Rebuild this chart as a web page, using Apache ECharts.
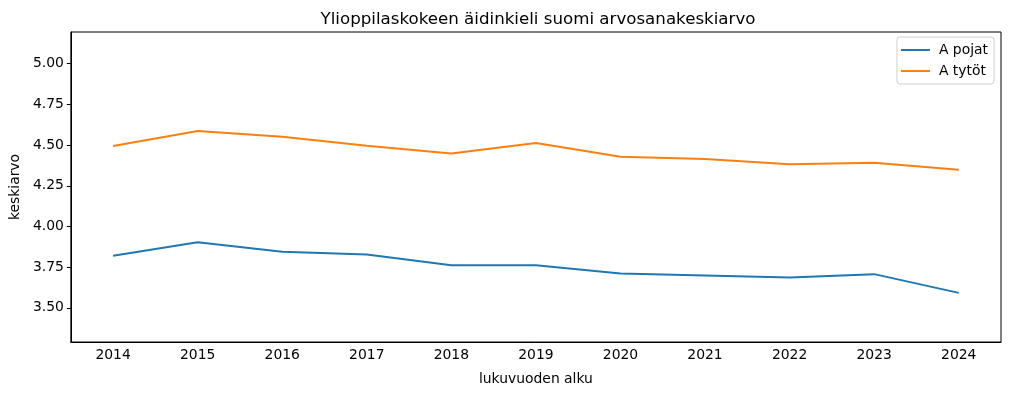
<!DOCTYPE html>
<html><head><meta charset="utf-8">
<script src="https://cdn.jsdelivr.net/npm/echarts@6/dist/echarts.min.js"></script>
<style>html,body{margin:0;padding:0;background:#fff}#c{width:1009px;height:393px}</style>
</head><body><div id="c"></div>
<script>
const years = ['2014','2015','2016','2017','2018','2019','2020','2021','2022','2023','2024'];
const pojat = [3.820,3.903,3.845,3.827,3.761,3.761,3.711,3.699,3.687,3.707,3.592];
const tytot = [4.494,4.587,4.552,4.496,4.449,4.513,4.429,4.414,4.382,4.392,4.349];
const yTicks = [3.5,3.75,4.0,4.25,4.5,4.75,5.0];
const F = 'DejaVu Sans';
const FS = 13.9;
const chart = echarts.init(document.getElementById('c'), null, {renderer:'canvas'});
chart.setOption({
  animation:false,
  textStyle:{fontFamily:F},
  title:{text:'Ylioppilaskokeen äidinkieli suomi arvosanakeskiarvo',left:533,top:6,textAlign:'center',
    textStyle:{fontFamily:F,fontSize:16.67,fontWeight:'normal',color:'#000'}},
  grid:{left:70,right:8,top:32,bottom:51,show:true,borderColor:'#000',borderWidth:1,backgroundColor:'transparent'},
  legend:{right:15,top:37,orient:'vertical',itemWidth:29,itemHeight:2,itemGap:7,
    backgroundColor:'#fff',borderColor:'#d0d0d0',borderWidth:1,borderRadius:3,padding:[6,6,6,4],
    textStyle:{fontFamily:F,fontSize:FS,color:'#000',padding:[0,0,0,4]},icon:'rect',
    data:['A pojat','A tytöt']},
  xAxis:{type:'category',data:years,boundaryGap:true,
    name:'lukuvuoden alku',nameLocation:'middle',nameGap:30,nameTextStyle:{fontFamily:F,fontSize:FS,color:'#000'},
    axisLine:{lineStyle:{color:'#000'}},axisTick:{alignWithLabel:true,length:4,lineStyle:{color:'#000'}},
    axisLabel:{fontFamily:F,fontSize:FS,color:'#000',margin:6},splitLine:{show:false}},
  yAxis:{type:'value',min:3.29,max:5.195,
    name:'keskiarvo',nameLocation:'middle',nameGap:46,nameRotate:90,nameTextStyle:{fontFamily:F,fontSize:FS,color:'#000'},
    axisLine:{show:true,lineStyle:{color:'#000'}},
    axisTick:{show:true,length:4,lineStyle:{color:'#000'},customValues:yTicks},
    axisLabel:{fontFamily:F,fontSize:FS,color:'#000',margin:7,customValues:yTicks,formatter:v=>v.toFixed(2)},
    splitLine:{show:false}},
  series:[
    {name:'A pojat',type:'line',data:pojat,symbol:'none',color:'#1f77b4',lineStyle:{width:2}},
    {name:'A tytöt',type:'line',data:tytot,symbol:'none',color:'#ff7f0e',lineStyle:{width:2}}
  ]
});
</script></body></html>
